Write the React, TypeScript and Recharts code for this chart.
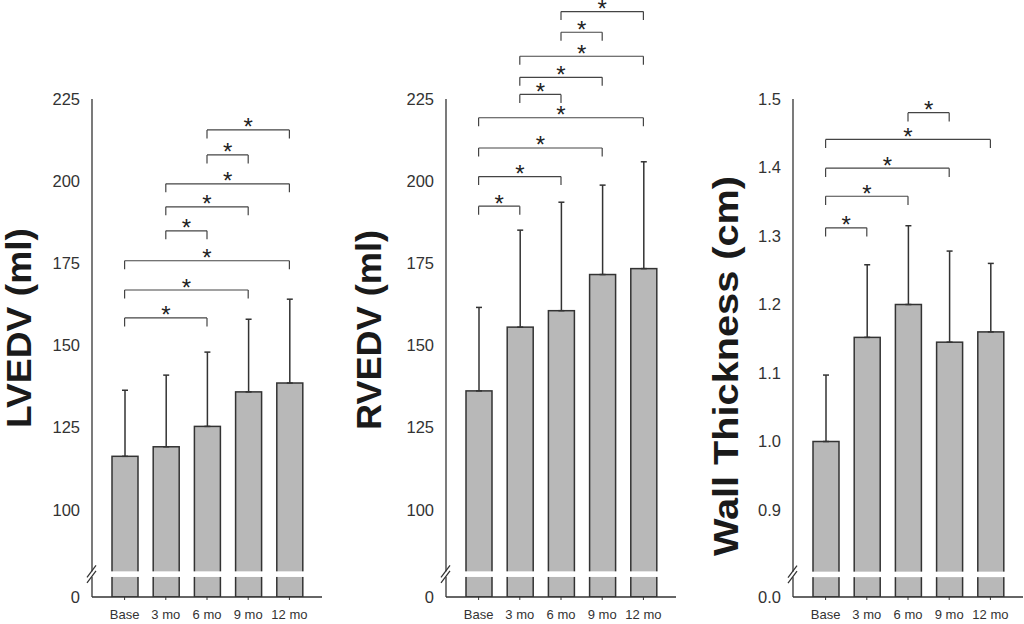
import React from 'react';
import { ComposedChart, Bar, XAxis, YAxis, ErrorBar, ReferenceLine } from 'recharts';

const FONT = '"Liberation Sans", Arial, Helvetica, sans-serif';

const categories = ['Base', '3 mo', '6 mo', '9 mo', '12 mo'];

const lvedvMean = [116.3, 119.2, 125.4, 135.9, 138.6];
const lvedvSD = [20.1, 21.8, 22.6, 22.1, 25.5];
const rvedvMean = [136.2, 155.6, 160.6, 171.6, 173.4];
const rvedvSD = [25.4, 29.5, 33.0, 27.2, 32.5];
const wallMean = [1.0, 1.152, 1.2, 1.145, 1.16];
const wallSD = [0.097, 0.106, 0.115, 0.133, 0.1];

const volumeTicks = [100, 125, 150, 175, 200, 225];
const wallTicks = [0.9, 1.0, 1.1, 1.2, 1.3, 1.4, 1.5];

type Sig = [string, string, number];
const lvedvSig: Sig[] = [
  ['Base', '6 mo', 158.4],
  ['Base', '9 mo', 166.9],
  ['Base', '12 mo', 175.8],
  ['3 mo', '6 mo', 184.9],
  ['3 mo', '9 mo', 192.2],
  ['3 mo', '12 mo', 199.2],
  ['6 mo', '9 mo', 208.0],
  ['6 mo', '12 mo', 215.6],
];
const rvedvSig: Sig[] = [
  ['Base', '3 mo', 192.4],
  ['Base', '6 mo', 201.4],
  ['Base', '9 mo', 210.1],
  ['Base', '12 mo', 219.3],
  ['3 mo', '6 mo', 226.4],
  ['3 mo', '9 mo', 231.6],
  ['3 mo', '12 mo', 238.0],
  ['6 mo', '9 mo', 245.3],
  ['6 mo', '12 mo', 251.6],
];
const wallSig: Sig[] = [
  ['Base', '3 mo', 1.312],
  ['Base', '6 mo', 1.358],
  ['Base', '9 mo', 1.399],
  ['Base', '12 mo', 1.441],
  ['6 mo', '9 mo', 1.48],
];

interface PanelProps {
  left: number;
  marginLeft: number;
  width: number;
  mean: number[];
  sd: number[];
  ticks: number[];
  domainMin: number;
  domainMax: number;
  breakLo: number;
  breakHi: number;
  zeroLabel: string;
  decimals: number;
  sig: Sig[];
  drop: number;
  title: string;
  titleX: number;
  titleY: number;
  titleLen: number;
}

const AXIS_W = 92;
const PLOT_W = 230;
const TOP = 99;
const X_H = 27;
const PLOT_H = 624 - TOP - X_H;

function Panel(p: PanelProps) {
  const data = categories.map((c, i) => ({ cat: c, value: p.mean[i], err: [0, p.sd[i]] }));
  const breakMid = (p.breakLo + p.breakHi) / 2;
  const yTicks = [p.domainMin, breakMid, ...p.ticks];
  const range = p.domainMax - p.domainMin;
  const gapTopFromBottom = ((p.breakHi - p.domainMin) / range) * PLOT_H;
  const gapH = ((p.breakHi - p.breakLo) / range) * PLOT_H;

  const Tick = (tp: any) => {
    const { x, y, payload } = tp;
    const v = payload.value;
    if (v === breakMid) {
      const ax = x + 12;
      return (
        <g>
          <rect x={ax - 3} y={y - gapH / 2} width={6} height={gapH} fill="#fff" />
          <line x1={ax - 5} y1={y - 2.8 + 6} x2={ax + 4} y2={y - 2.8 - 6} stroke="#333" strokeWidth={1.2} />
          <line x1={ax - 5} y1={y + 2.8 + 6} x2={ax + 4} y2={y + 2.8 - 6} stroke="#333" strokeWidth={1.2} />
        </g>
      );
    }
    const label = v === p.domainMin ? p.zeroLabel : Number(v).toFixed(p.decimals);
    return (
      <text x={x} y={y} dy="0.35em" textAnchor="end" fontSize={16.5} fill="#333" fontFamily={FONT}>
        {label}
      </text>
    );
  };

  const BarShape = (sp: any) => {
    const { x, y, width, height } = sp;
    const bottom = y + height;
    return (
      <g>
        <rect x={x} y={y} width={width} height={height} fill="#b8b8b8" stroke="#333" strokeWidth={1.5} />
        <rect x={x - 2} y={bottom - gapTopFromBottom} width={width + 4} height={gapH} fill="#fff" />
      </g>
    );
  };

  const Title = () => (
    <text
      x={p.titleX}
      y={p.titleY}
      transform={`rotate(-90 ${p.titleX} ${p.titleY})`}
      textAnchor="middle"
      dominantBaseline="central"
      fontSize={35}
      fontWeight="bold"
      fill="#1a1a1a"
      fontFamily={FONT}
      textLength={p.titleLen}
      lengthAdjust="spacingAndGlyphs"
    >
      {p.title}
    </text>
  );

  const lineStyle = { stroke: '#444', strokeWidth: 1.2 };
  const refs: React.ReactNode[] = [];
  p.sig.forEach(([a, b, v], i) => {
    refs.push(
      <ReferenceLine
        key={`h${i}`}
        segment={[{ x: a, y: v }, { x: b, y: v }]}
        {...lineStyle}
        ifOverflow="visible"
        label={{ value: '*', position: 'center', dy: -3, fontSize: 24, fill: '#222', fontFamily: FONT }}
      />
    );
    refs.push(
      <ReferenceLine key={`l${i}`} segment={[{ x: a, y: v }, { x: a, y: v - p.drop }]} {...lineStyle} ifOverflow="visible" />
    );
    refs.push(
      <ReferenceLine key={`r${i}`} segment={[{ x: b, y: v }, { x: b, y: v - p.drop }]} {...lineStyle} ifOverflow="visible" />
    );
  });

  return (
    <div style={{ position: 'absolute', left: p.left, top: 0 }}>
      <ComposedChart
        width={p.width}
        height={624}
        data={data}
        margin={{ top: TOP, right: p.width - p.marginLeft - AXIS_W - PLOT_W, bottom: 0, left: p.marginLeft }}
      >
        <XAxis
          dataKey="cat"
          padding={{ left: 12, right: 12 }}
          height={X_H}
          tickSize={3}
          tickMargin={10}
          interval={0}
          axisLine={{ stroke: '#333', strokeWidth: 1.3 }}
          tickLine={{ stroke: '#333' }}
          tick={{ fontSize: 13, fill: '#333', fontFamily: FONT }}
        />
        <YAxis
          type="number"
          domain={[p.domainMin, p.domainMax]}
          allowDataOverflow
          ticks={yTicks}
          interval={0}
          width={AXIS_W}
          tickSize={0}
          tickMargin={12}
          tickLine={false}
          axisLine={{ stroke: '#333', strokeWidth: 1.3 }}
          tick={<Tick />}
          label={<Title />}
        />
        <Bar dataKey="value" barSize={26} isAnimationActive={false} shape={<BarShape />}>
          <ErrorBar dataKey="err" width={3} stroke="#333" strokeWidth={1.5} direction="y" isAnimationActive={false} />
        </Bar>
        {refs}
      </ComposedChart>
    </div>
  );
}

export default function App() {
  return (
    <div style={{ position: 'absolute', left: 0, top: 0, width: 1024, height: 624, background: '#fff', overflow: 'hidden' }}>
      <Panel
        left={0}
        marginLeft={0}
        width={332}
        mean={lvedvMean}
        sd={lvedvSD}
        ticks={volumeTicks}
        domainMin={73.5}
        domainMax={225}
        breakLo={79.6}
        breakHi={81.3}
        zeroLabel="0"
        decimals={0}
        sig={lvedvSig}
        drop={2.6}
        title="LVEDV (ml)"
        titleX={18}
        titleY={328}
        titleLen={200}
      />
      <Panel
        left={340}
        marginLeft={14}
        width={346}
        mean={rvedvMean}
        sd={rvedvSD}
        ticks={volumeTicks}
        domainMin={73.5}
        domainMax={225}
        breakLo={79.6}
        breakHi={81.3}
        zeroLabel="0"
        decimals={0}
        sig={rvedvSig}
        drop={2.6}
        title="RVEDV (ml)"
        titleX={28}
        titleY={330}
        titleLen={200}
      />
      <Panel
        left={701}
        marginLeft={0}
        width={323}
        mean={wallMean}
        sd={wallSD}
        ticks={wallTicks}
        domainMin={0.773}
        domainMax={1.5}
        breakLo={0.802}
        breakHi={0.81}
        zeroLabel="0.0"
        decimals={1}
        sig={wallSig}
        drop={0.0127}
        title="Wall Thickness (cm)"
        titleX={24}
        titleY={366}
        titleLen={380}
      />
    </div>
  );
}
